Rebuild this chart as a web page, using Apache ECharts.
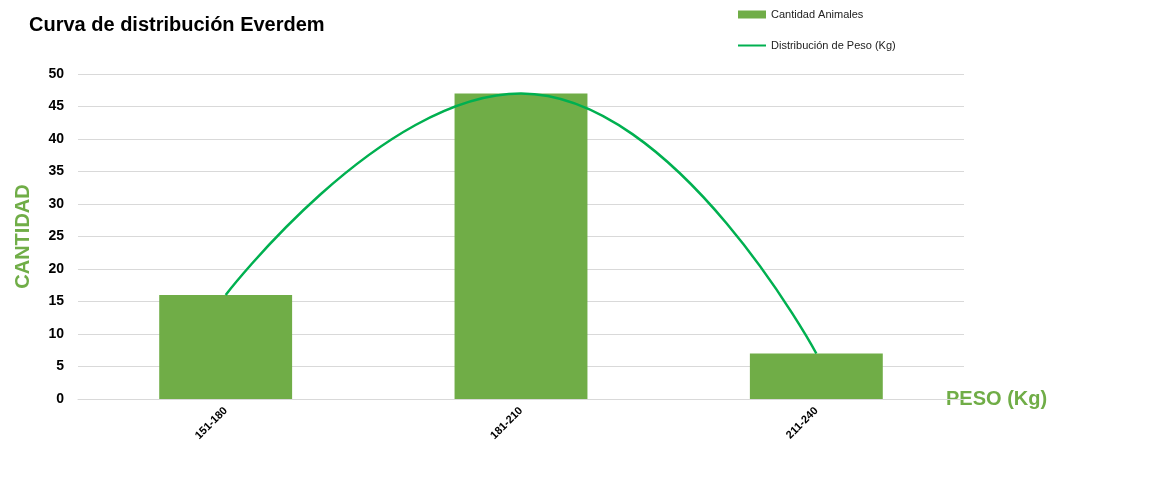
<!DOCTYPE html>
<html>
<head>
<meta charset="utf-8">
<script src="https://cdn.jsdelivr.net/npm/echarts@6/dist/echarts.min.js"></script>
<style>html,body{margin:0;padding:0;background:#fff}#chart{width:1165px;height:498px}</style>
</head>
<body>
<div id="chart"></div>
<script>
const categories = ['151-180', '181-210', '211-240'];
const cantidadAnimales = [16, 47, 7];
const distribucionPeso = [16, 47, 7];

const chart = echarts.init(document.getElementById('chart'));
const font = 'Liberation Sans Narrow, Liberation Sans, sans-serif';

chart.setOption({
    textStyle: { fontFamily: font },
    title: {
        text: 'Curva de distribución Everdem',
        left: 24, top: 10,
        textStyle: { fontSize: 20, fontWeight: 'bold', color: '#000', fontFamily: font }
    },
    legend: {
        orient: 'vertical', left: 733, top: 4, itemGap: 20,
        itemWidth: 28, itemHeight: 8,
        textStyle: { fontSize: 11, color: '#222' },
        data: [
            { name: 'Cantidad Animales', icon: 'rect' },
            { name: 'Distribución de Peso (Kg)', icon: 'path://M0,4L28,4L28,6L0,6Z' }
        ]
    },
    grid: { left: 78, right: 201, top: 74, bottom: 99 },
    xAxis: {
        type: 'category', data: categories,
        name: 'PESO (Kg)', nameLocation: 'end', nameGap: 0,
        nameTextStyle: { color: '#70AD47', fontSize: 20, fontWeight: 'bold', padding: [80, 0, 0, -18], align: 'left' },
        axisLine: { lineStyle: { color: '#d9d9d9' } },
        axisTick: { show: false },
        axisLabel: { rotate: 45, color: '#000', fontWeight: 'bold', fontSize: 11, margin: 10 }
    },
    yAxis: {
        type: 'value', min: 0, max: 50, interval: 5,
        name: 'CANTIDAD', nameLocation: 'middle', nameGap: 45,
        nameTextStyle: { color: '#70AD47', fontSize: 20, fontWeight: 'bold' },
        axisLabel: { color: '#000', fontWeight: 'bold', fontSize: 14, margin: 14 },
        splitLine: { lineStyle: { color: '#d9d9d9' } },
        axisLine: { show: false }, axisTick: { show: false }
    },
    series: [
        {
            name: 'Cantidad Animales', type: 'bar', data: cantidadAnimales,
            barWidth: '45%', itemStyle: { color: '#70AD47' }
        },
        {
            name: 'Distribución de Peso (Kg)', type: 'line', data: distribucionPeso,
            smooth: 0.5, symbol: 'none', lineStyle: { color: '#00B050', width: 2.5 },
            itemStyle: { color: '#00B050' }
        }
    ]
});
</script>
</body>
</html>
